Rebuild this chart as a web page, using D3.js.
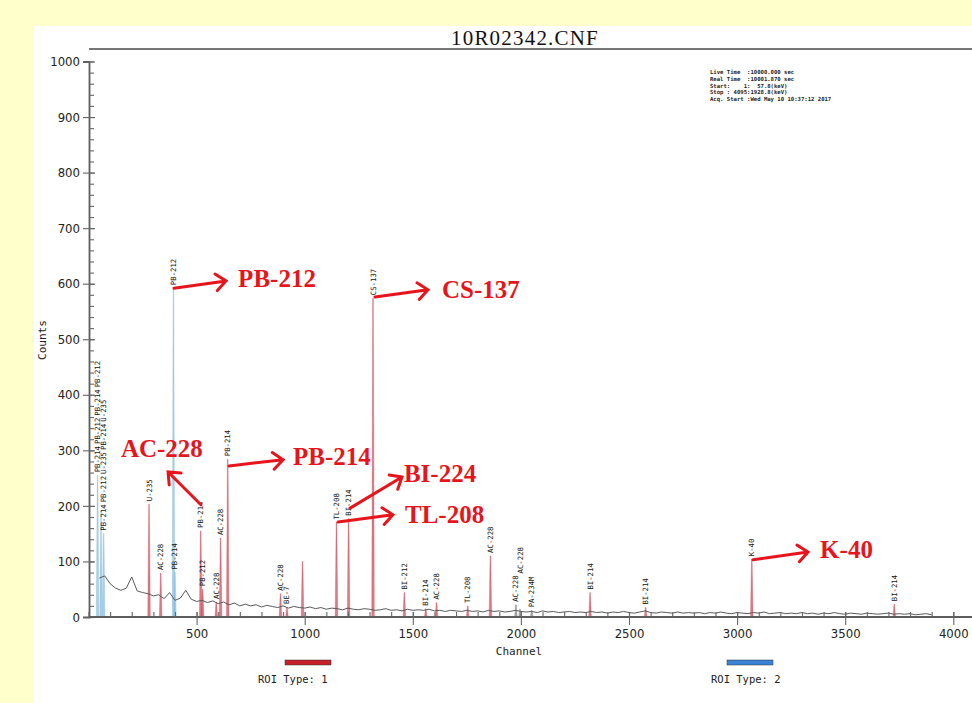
<!DOCTYPE html>
<html>
<head>
<meta charset="utf-8">
<script src="https://cdn.jsdelivr.net/npm/d3@7/dist/d3.min.js"></script>
<style>
  body { margin: 0; background: #ffffcc; }
  svg { display: block; }
</style>
</head>
<body>
<svg id="chart"></svg>
<script>
var width = 972;
var height = 703;

// background spectrum, one value every 25 channels starting at channel 50
var baseStart = 50;
var baseStep = 25;
var baseCounts = [
  70, 74, 60, 52, 48, 52, 72, 47, 44, 42,
  38, 40, 33, 44, 30, 34, 48, 32, 28, 30,
  26, 29, 24, 27, 22, 25, 20, 23, 20, 22,
  18, 21, 19, 17, 20, 16, 19, 17, 16, 18,
  15, 17, 14, 16, 15, 13, 16, 14, 13, 15,
  14, 12, 13, 15, 12, 13, 11, 14, 12, 13,
  12, 14, 11, 12, 10, 12, 11, 10, 12, 10,
  11, 9, 12, 10, 11, 9, 10, 12, 10, 9,
  10, 8, 11, 9, 10, 8, 9, 10, 8, 9,
  8, 10, 8, 9, 7, 9, 8, 10, 8, 7,
  9, 11, 8, 7, 9, 8, 7, 9, 7, 8,
  7, 8, 6, 8, 7, 9, 7, 6, 8, 7,
  6, 8, 7, 9, 6, 7, 8, 6, 7, 6,
  8, 6, 7, 5, 7, 6, 8, 6, 5, 7,
  6, 5, 7, 6, 5, 6, 7, 5, 6, 5,
  6, 4, 5, 6, 4
];

// identified peaks
var peakChannels = [42, 58, 70, 280, 334, 393, 400, 519, 528, 591, 611, 644, 888, 918, 990,
  1147, 1203, 1316, 1461, 1560, 1610, 1754, 1859, 1977, 1996, 2050, 2320, 2577, 3068, 3727];
var peakCounts = [255, 190, 150, 203, 79, 592, 80, 155, 50, 27, 142, 284, 42, 18, 100,
  170, 177, 574, 44, 15, 26, 20, 110, 22, 14, 12, 44, 17, 104, 23];
var peakRoi = [2, 2, 2, 1, 1, 2, 2, 1, 1, 1, 1, 1, 1, 1, 1,
  1, 1, 1, 1, 1, 1, 1, 1, 0, 0, 0, 1, 1, 1, 1];
var peakLabels = [
  ["PB-214", "PB-212", "PB-214", "PB-212"], [], ["PB-214", "PB-212", "U-235", "PB-214", "U-235"],
  ["U-235"], ["AC-228"], ["PB-212"], ["PB-214"], ["PB-214"], ["PB-212"], ["AC-228"], ["AC-228"],
  ["PB-214"], ["AC-228"], ["BE-7"], [], ["TL-208"], ["BI-214"], ["CS-137"], ["BI-212"], ["BI-214"],
  ["AC-228"], ["TL-208"], ["AC-228"], ["AC-228"], ["AC-228"], ["PA-234M"], ["BI-214"], ["BI-214"],
  ["K-40"], ["BI-214"]
];

var xTicks = [500, 1000, 1500, 2000, 2500, 3000, 3500, 4000];
var yTicks = [0, 100, 200, 300, 400, 500, 600, 700, 800, 900, 1000];

var infoLines = [
  "Live Time  :10000.000 sec",
  "Real Time  :10001.870 sec",
  "Start:    1:  57.8(keV)",
  "Stop : 4095:1928.8(keV)",
  "Acq. Start :Wed May 10 10:37:12 2017"
];

// red call-outs: text, arrow start [channel, counts], arrow end, text anchor
var annoText = ["PB-212", "CS-137", "AC-228", "PB-214", "BI-224", "TL-208", "K-40"];
var annoFrom = [[395, 592], [1325, 576], [520, 202], [650, 272], [1210, 196], [1154, 171], [3074, 103]];
var annoTo = [[636, 605], [1570, 589], [368, 261], [900, 283], [1450, 252], [1408, 184], [3328, 117]];
var annoAt = [[692, 594], [1635, 574], [150, 288], [946, 274], [1459, 243], [1464, 169], [3384, 106]];

var roiColor = { 0: "#555555", 1: "#c83444", 2: "#7ab6da" };

var svg = d3.select("#chart").attr("width", width).attr("height", height);

svg.append("rect").attr("width", width).attr("height", height).attr("fill", "#ffffcc");
svg.append("rect").attr("x", 34).attr("y", 26).attr("width", width - 34).attr("height", height - 26)
  .attr("fill", "#ffffff");

var x = d3.scaleLinear().domain([0, 4096]).range([88.5, 88.5 + 4096 * 0.2162]);
var y = d3.scaleLinear().domain([0, 1000]).range([617, 61.5]);

svg.append("text")
  .attr("x", 525).attr("y", 45)
  .attr("text-anchor", "middle")
  .attr("font-family", "Liberation Serif, Times New Roman, serif")
  .attr("font-size", 21).attr("letter-spacing", 1.2)
  .attr("fill", "#111")
  .text("10R02342.CNF");

svg.append("defs").append("clipPath").attr("id", "plot-clip")
  .append("rect").attr("x", 89).attr("y", 49).attr("width", width - 89).attr("height", 568);

// frame top line
svg.append("line")
  .attr("x1", 89).attr("x2", width).attr("y1", 49).attr("y2", 49)
  .attr("stroke", "#777").attr("stroke-width", 2.2);

// peaks
var plot = svg.append("g").attr("clip-path", "url(#plot-clip)");
var peaks = peakChannels.map(function (c, i) {
  return { ch: c, counts: peakCounts[i], roi: peakRoi[i], labels: peakLabels[i] };
});

plot.selectAll("path.peak")
  .data(peaks)
  .enter().append("path")
    .attr("class", "peak")
    .attr("d", function (d) {
      return "M" + x(d.ch - 6) + "," + y(0) +
        "L" + x(d.ch - 1.5) + "," + y(d.counts) +
        "L" + x(d.ch + 1.5) + "," + y(d.counts) +
        "L" + x(d.ch + 6) + "," + y(0) + "Z";
    })
    .attr("fill", function (d) { return roiColor[d.roi]; })
    .attr("fill-opacity", function (d) { return d.roi === 0 ? 0.5 : 0.65; })
    .attr("stroke", function (d) { return roiColor[d.roi]; })
    .attr("stroke-opacity", 0.35)
    .attr("stroke-width", 0.8);

// background spectrum line
var base = baseCounts.map(function (v, i) { return [baseStart + i * baseStep, v]; });
var line = d3.line()
  .x(function (d) { return x(d[0]); })
  .y(function (d) { return y(d[1]); });

plot.append("path")
  .datum(base)
  .attr("d", line)
  .attr("fill", "none")
  .attr("stroke", "#5a5a5a")
  .attr("stroke-width", 1);

// peak labels, stacked when they collide
var placed = [];
var labelG = svg.append("g")
  .attr("font-family", "DejaVu Sans Mono, monospace")
  .attr("font-size", 7.3)
  .attr("fill", "#111");

peaks.forEach(function (p) {
  var px = x(p.ch);
  var bottom = y(p.counts) - 3;
  p.labels.forEach(function (name) {
    var t = labelG.append("text").text(name);
    var len = t.node().getComputedTextLength();
    var moved = true;
    while (moved) {
      moved = false;
      placed.forEach(function (q) {
        if (Math.abs(q.x - px) < 6 && bottom > q.top - 1 && bottom - len < q.bottom + 1) {
          bottom = q.top - 2;
          moved = true;
        }
      });
    }
    t.attr("transform", "translate(" + (px + 2.5) + "," + bottom + ") rotate(-90)");
    placed.push({ x: px, bottom: bottom, top: bottom - len });
  });
});

// axes
var yAxis = svg.append("g")
  .attr("transform", "translate(89,0)")
  .call(d3.axisLeft(y).tickValues(yTicks).tickSize(6).tickPadding(3).tickFormat(d3.format("d")));
yAxis.selectAll(".tick line").attr("x2", 6).attr("x1", -6);
var yMinor = svg.append("g")
  .attr("transform", "translate(89,0)")
  .call(d3.axisRight(y).tickValues(d3.range(0, 1001, 20)).tickSize(5).tickFormat(""));

var xAxis = svg.append("g")
  .attr("transform", "translate(0," + y(0) + ")")
  .call(d3.axisBottom(x).tickValues(xTicks).tickSize(8).tickPadding(4).tickFormat(d3.format("d")));
xAxis.selectAll(".tick line").attr("y1", -5);
var xMinor = svg.append("g")
  .attr("transform", "translate(0," + y(0) + ")")
  .call(d3.axisTop(x).tickValues(d3.range(0, 4001, 100)).tickSize(5).tickFormat(""));

[yAxis, yMinor, xAxis, xMinor].forEach(function (g) {
  g.select(".domain").attr("stroke", "#5c5c5c").attr("stroke-width", 1.8);
  g.selectAll(".tick line").attr("stroke", "#666").attr("stroke-width", 1.1);
  g.selectAll(".tick text")
    .attr("font-family", "DejaVu Sans Condensed, DejaVu Sans, sans-serif")
    .attr("font-size", 13)
    .attr("fill", "#222");
});
yMinor.select(".domain").remove();
xMinor.select(".domain").remove();
xAxis.select(".domain").attr("d", "M89,0H" + width);

svg.append("text")
  .attr("transform", "translate(46,340) rotate(-90)")
  .attr("text-anchor", "middle")
  .attr("font-family", "DejaVu Sans Mono, monospace")
  .attr("font-size", 11).attr("fill", "#222")
  .text("Counts");

svg.append("text")
  .attr("x", 519).attr("y", 655)
  .attr("text-anchor", "middle")
  .attr("font-family", "DejaVu Sans Mono, monospace")
  .attr("font-size", 11).attr("fill", "#222")
  .text("Channel");

// info box
svg.append("g")
  .attr("font-family", "DejaVu Sans Mono, monospace")
  .attr("font-size", 5.6).attr("font-weight", "bold").attr("fill", "#222")
  .selectAll("text")
  .data(infoLines)
  .enter().append("text")
    .attr("x", 710)
    .attr("y", function (d, i) { return 74 + i * 6.8; })
    .attr("xml:space", "preserve")
    .style("white-space", "pre")
    .text(function (d) { return d; });

// ROI legend
var legend = [{ name: "ROI Type: 1", color: "#c8202a", x: 285, tx: 258 },
              { name: "ROI Type: 2", color: "#3a82d6", x: 727, tx: 711 }];
legend.forEach(function (l) {
  svg.append("rect").attr("x", l.x).attr("y", 660).attr("width", 46).attr("height", 5)
    .attr("fill", l.color).attr("stroke", "#333").attr("stroke-width", 0.5);
  svg.append("text").attr("x", l.tx).attr("y", 683)
    .attr("font-family", "DejaVu Sans Mono, monospace")
    .attr("font-size", 10.5).attr("fill", "#222")
    .text(l.name);
});

// red call-outs
var anno = svg.append("g");
annoText.forEach(function (t, i) {
  var x1 = x(annoFrom[i][0]), y1 = y(annoFrom[i][1]);
  var x2 = x(annoTo[i][0]), y2 = y(annoTo[i][1]);
  var ang = Math.atan2(y2 - y1, x2 - x1);
  var head = 13, spread = 0.7;
  anno.append("path")
    .attr("d", "M" + x1 + "," + y1 + "L" + x2 + "," + y2 +
      "M" + (x2 - head * Math.cos(ang - spread)) + "," + (y2 - head * Math.sin(ang - spread)) +
      "L" + x2 + "," + y2 +
      "L" + (x2 - head * Math.cos(ang + spread)) + "," + (y2 - head * Math.sin(ang + spread)))
    .attr("fill", "none")
    .attr("stroke", "#e8141c")
    .attr("stroke-width", 3)
    .attr("stroke-linecap", "round");
  anno.append("text")
    .attr("x", x(annoAt[i][0])).attr("y", y(annoAt[i][1]))
    .attr("font-family", "Liberation Serif, Times New Roman, serif")
    .attr("font-weight", "bold")
    .attr("font-size", 25)
    .attr("fill", "#e8141c")
    .text(t);
});
</script>
</body>
</html>
